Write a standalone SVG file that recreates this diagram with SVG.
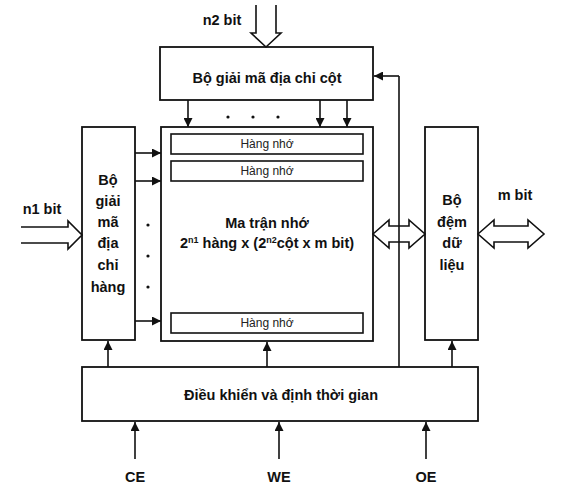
<svg xmlns="http://www.w3.org/2000/svg" width="561" height="489" viewBox="0 0 561 489">
<style>
.box{fill:#fff;stroke:#111;stroke-width:1.8}
.row{fill:#fff;stroke:#111;stroke-width:1.6}
.hol{fill:#fff;stroke:#111;stroke-width:1.6;stroke-linejoin:miter}
.ln{fill:none;stroke:#111;stroke-width:1.6}
.t{font-family:"Liberation Sans",Arial,sans-serif;font-weight:bold;font-size:14.5px;fill:#111;text-anchor:middle}
.s{font-family:"Liberation Sans",Arial,sans-serif;font-size:12px;fill:#222;text-anchor:middle}
.dot{fill:#111}
</style>
<defs>
<marker id="ah" viewBox="0 0 10 10" refX="10" refY="5" markerWidth="9" markerHeight="9" markerUnits="userSpaceOnUse" orient="auto">
<path d="M0,0 L10,5 L0,10 Z" fill="#111"/>
</marker>
</defs>

<g id="col-decoder">
<rect class="box" x="160" y="47" width="213" height="53"/>
<text class="t" x="267" y="83">Bộ giải mã địa chỉ cột</text>
</g>

<g id="row-decoder">
<rect class="box" x="82" y="127" width="53" height="213"/>
<text class="t" x="108" y="185">Bộ</text>
<text class="t" x="108" y="206">giải</text>
<text class="t" x="108" y="227">mã</text>
<text class="t" x="108" y="248">địa</text>
<text class="t" x="108" y="270">chỉ</text>
<text class="t" x="108" y="292">hàng</text>
</g>

<g id="matrix">
<rect class="box" x="161" y="127" width="212" height="214"/>
<rect class="row" x="171" y="134" width="192" height="20"/>
<text class="s" x="267" y="148">Hàng nhớ</text>
<rect class="row" x="171" y="161" width="192" height="20"/>
<text class="s" x="267" y="175">Hàng nhớ</text>
<rect class="row" x="171" y="313" width="192" height="20"/>
<text class="s" x="267" y="327">Hàng nhớ</text>
<text class="t" x="267" y="228">Ma trận nhớ</text>
<text class="t" x="267" y="248">2<tspan font-size="9" dy="-5">n1</tspan><tspan dy="5"> hàng x (2</tspan><tspan font-size="9" dy="-5">n2</tspan><tspan dy="5">cột x m bit)</tspan></text>
</g>

<g id="data-buffer">
<rect class="box" x="425" y="127" width="53" height="213"/>
<text class="t" x="452" y="205">Bộ</text>
<text class="t" x="452" y="227">đệm</text>
<text class="t" x="452" y="248">dữ</text>
<text class="t" x="452" y="270">liệu</text>
</g>

<g id="control">
<rect class="box" x="82" y="367" width="396" height="54"/>
<text class="t" x="281" y="400">Điều khiển và định thời gian</text>
</g>

<g id="labels">
<text class="t" x="222" y="25">n2 bit</text>
<text class="t" x="42" y="214">n1 bit</text>
<text class="t" x="515" y="200">m bit</text>
<text class="t" x="135" y="482">CE</text>
<text class="t" x="279" y="482">WE</text>
<text class="t" x="426" y="482">OE</text>
</g>

<g id="connectors">
<path class="hol" d="M256,5 V33 H251 L266,47 L281,33 H276 V5"/>
<path class="hol" d="M21,227 H68 V221 L82,235 L68,249 V243 H21"/>
<path class="hol" d="M373,234 L389,220 V226 H409 V220 L425,234 L409,248 V242 H389 V248 Z"/>
<path class="hol" d="M478,234 L494,220 V226 H528 V220 L544,234 L528,248 V242 H494 V248 Z"/>
<line class="ln" x1="399" y1="367" x2="399" y2="76"/>
<line class="ln" x1="399" y1="76" x2="374" y2="76" marker-end="url(#ah)"/>
<line class="ln" x1="188" y1="100" x2="188" y2="127" marker-end="url(#ah)"/>
<line class="ln" x1="320" y1="100" x2="320" y2="127" marker-end="url(#ah)"/>
<line class="ln" x1="347" y1="100" x2="347" y2="127" marker-end="url(#ah)"/>
<circle class="dot" cx="228" cy="117" r="1.6"/>
<circle class="dot" cx="253" cy="117" r="1.6"/>
<circle class="dot" cx="278" cy="117" r="1.6"/>
<line class="ln" x1="135" y1="153" x2="161" y2="153" marker-end="url(#ah)"/>
<line class="ln" x1="135" y1="181" x2="161" y2="181" marker-end="url(#ah)"/>
<line class="ln" x1="135" y1="321" x2="161" y2="321" marker-end="url(#ah)"/>
<circle class="dot" cx="148" cy="225" r="1.6"/>
<circle class="dot" cx="148" cy="256" r="1.6"/>
<circle class="dot" cx="148" cy="287" r="1.6"/>
<line class="ln" x1="108" y1="367" x2="108" y2="341" marker-end="url(#ah)"/>
<line class="ln" x1="267" y1="367" x2="267" y2="342" marker-end="url(#ah)"/>
<line class="ln" x1="452" y1="367" x2="452" y2="341" marker-end="url(#ah)"/>
<line class="ln" x1="135" y1="459" x2="135" y2="422" marker-end="url(#ah)"/>
<line class="ln" x1="279" y1="459" x2="279" y2="422" marker-end="url(#ah)"/>
<line class="ln" x1="426" y1="459" x2="426" y2="422" marker-end="url(#ah)"/>
</g>
</svg>
